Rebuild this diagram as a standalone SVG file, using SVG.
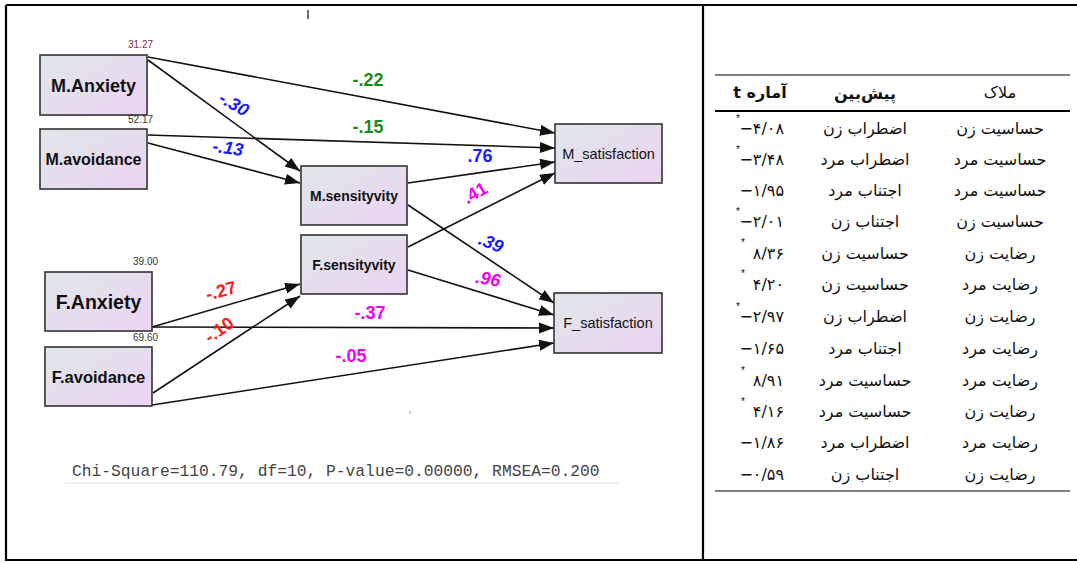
<svg xmlns="http://www.w3.org/2000/svg" width="1077" height="563" viewBox="0 0 1077 563">
<style>
.node rect{stroke:#333;stroke-width:1.6;fill:url(#ng)}
.nb{font-family:"Liberation Sans",Arial,sans-serif;font-weight:bold;fill:#111;text-anchor:middle}
.nn{font-family:"Liberation Sans",Arial,sans-serif;fill:#111;text-anchor:middle}
.conn line{stroke:#111;stroke-width:1.6;marker-end:url(#ah)}
.cl{font-family:"Liberation Sans",Arial,sans-serif;font-weight:bold;font-size:18px;text-anchor:middle}
.it{font-style:italic}
.g{fill:#1b8a1b}.b{fill:#1a1aff}.m{fill:#f000f0}.r{fill:#ff1a1a}
.var{font-family:"Liberation Sans",Arial,sans-serif;font-size:10px;fill:#333}
.fa{font-family:"DejaVu Sans","Noto Sans",sans-serif;font-size:16px;fill:#111;text-anchor:middle;direction:rtl}
.tv{font-family:"DejaVu Sans","Noto Sans",sans-serif;font-size:16px;fill:#111;direction:ltr}
.st{font-family:"Liberation Sans",Arial,sans-serif;font-size:10px;fill:#111}
</style>
<defs>
<linearGradient id="ng" x1="0" y1="0" x2="1" y2="1">
<stop offset="0" stop-color="#dfe7ea"/>
<stop offset="1" stop-color="#ecd3f2"/>
</linearGradient>
<marker id="ah" markerUnits="userSpaceOnUse" markerWidth="16" markerHeight="12" refX="15" refY="5.5" orient="auto">
<path d="M0,0 L15,5.5 L0,11 z" fill="#111"/>
</marker>
</defs>
<rect width="1077" height="563" fill="#fff"/>
<!-- frame -->
<g stroke="#000" stroke-width="2.2" fill="none">
<line x1="6" y1="5" x2="1077" y2="5"/>
<line x1="6" y1="5" x2="6" y2="561"/>
<line x1="6" y1="560" x2="1077" y2="560"/>
<line x1="703" y1="5" x2="703" y2="561"/>
</g>
<line x1="308" y1="10" x2="308" y2="19" stroke="#111" stroke-width="1.2"/>

<!-- connectors -->
<g id="connectors" class="conn">
<line x1="148" y1="57" x2="555" y2="133"/>
<line x1="148" y1="60" x2="300" y2="171"/>
<line x1="148" y1="135" x2="555" y2="148"/>
<line x1="148" y1="143" x2="300" y2="183"/>
<line x1="408" y1="183" x2="555" y2="162"/>
<line x1="408" y1="247" x2="555" y2="173"/>
<line x1="408" y1="205" x2="554" y2="303"/>
<line x1="408" y1="270" x2="554" y2="315"/>
<line x1="152" y1="327" x2="554" y2="328"/>
<line x1="152" y1="327" x2="300" y2="284"/>
<line x1="153" y1="393" x2="300" y2="296"/>
<line x1="152" y1="405" x2="554" y2="343"/>
</g>
<g id="connector-labels">
<text class="cl g" x="368" y="86">-.22</text>
<text class="cl g" x="368" y="133">-.15</text>
<text class="cl b it" transform="translate(234,104) rotate(30)" y="6">-.30</text>
<text class="cl b it" transform="translate(228,148) rotate(8)" y="6">-.13</text>
<text class="cl b" x="480" y="162">.76</text>
<text class="cl m" transform="translate(475,193) rotate(-30)" y="6">.41</text>
<text class="cl b it" transform="translate(491,243) rotate(22)" y="6">.39</text>
<text class="cl m it" transform="translate(488,279) rotate(10)" y="6">.96</text>
<text class="cl m" x="370" y="319">-.37</text>
<text class="cl r" transform="translate(221,291) rotate(-15)" y="6">-.27</text>
<text class="cl r" transform="translate(219,330) rotate(-35)" y="6">-.10</text>
<text class="cl m" x="351" y="362">-.05</text>
</g>

<!-- nodes -->
<g id="node-m-anxiety" class="node">
<rect x="40" y="55" width="107" height="60"/>
<text class="nb" x="93.5" y="92" font-size="18">M.Anxiety</text>
<text class="var" x="128" y="48" style="fill:#7a3030">31.27</text>
</g>
<g id="node-m-avoidance" class="node">
<rect x="40" y="129" width="107" height="60"/>
<text class="nb" x="93.5" y="165" font-size="16">M.avoidance</text>
<text class="var" x="128" y="123">52.17</text>
</g>
<g id="node-m-sensityvity" class="node">
<rect x="301" y="166" width="106" height="59"/>
<text class="nb" x="354" y="201" font-size="14">M.sensityvity</text>
</g>
<g id="node-f-sensityvity" class="node">
<rect x="301" y="235" width="106" height="59"/>
<text class="nb" x="354" y="270" font-size="14">F.sensityvity</text>
</g>
<g id="node-m-satisfaction" class="node">
<rect x="555" y="124" width="107" height="59"/>
<text class="nn" x="608.5" y="159" font-size="14.5">M_satisfaction</text>
</g>
<g id="node-f-satisfaction" class="node">
<rect x="554" y="293" width="108" height="60"/>
<text class="nn" x="608" y="328" font-size="14.5">F_satisfaction</text>
</g>
<g id="node-f-anxiety" class="node">
<rect x="45" y="272" width="107" height="59"/>
<text class="nb" x="98.5" y="309" font-size="19.5">F.Anxiety</text>
<text class="var" x="133" y="265">39.00</text>
</g>
<g id="node-f-avoidance" class="node">
<rect x="45" y="347" width="107" height="59"/>
<text class="nb" x="98.5" y="383" font-size="16.5">F.avoidance</text>
<text class="var" x="133" y="341">69.60</text>
</g>

<!-- fit statistics -->
<text x="72" y="476" font-family="Liberation Mono,Courier New,monospace" font-size="16.3" fill="#444">Chi-Square=110.79, df=10, P-value=0.00000, RMSEA=0.200</text>
<line x1="65" y1="483" x2="620" y2="483" stroke="#e2e2e2" stroke-width="1"/>
<line x1="410" y1="411" x2="410" y2="414" stroke="#999" stroke-width="1"/>

<!-- table -->
<g id="table">
<line x1="715" y1="75" x2="1070" y2="75" stroke="#808080" stroke-width="2"/>
<line x1="715" y1="111" x2="1070" y2="111" stroke="#000" stroke-width="2"/>
<line x1="715" y1="491" x2="1070" y2="491" stroke="#808080" stroke-width="2"/>
<text class="fa" x="760" y="98" font-weight="bold">آماره t</text>
<text class="fa" x="865" y="99" font-weight="bold">پیش‌بین</text>
<text class="fa" x="1000" y="98">ملاک</text>

<g class="fa">
<text x="1000" y="134">حساسیت زن</text>
<text x="1000" y="165">حساسیت مرد</text>
<text x="1000" y="196">حساسیت مرد</text>
<text x="1000" y="227">حساسیت زن</text>
<text x="1000" y="259">رضایت زن</text>
<text x="1000" y="290">رضایت مرد</text>
<text x="1000" y="322">رضایت زن</text>
<text x="1000" y="354">رضایت مرد</text>
<text x="1000" y="386">رضایت مرد</text>
<text x="1000" y="417">رضایت زن</text>
<text x="1000" y="448">رضایت مرد</text>
<text x="1000" y="480">رضایت زن</text>
</g>
<g class="fa">
<text x="865" y="134">اضطراب زن</text>
<text x="865" y="165">اضطراب مرد</text>
<text x="865" y="196">اجتناب مرد</text>
<text x="865" y="227">اجتناب زن</text>
<text x="865" y="259">حساسیت زن</text>
<text x="865" y="290">حساسیت زن</text>
<text x="865" y="322">اضطراب زن</text>
<text x="865" y="354">اجتناب مرد</text>
<text x="865" y="386">حساسیت مرد</text>
<text x="865" y="417">حساسیت مرد</text>
<text x="865" y="448">اضطراب مرد</text>
<text x="865" y="480">اجتناب زن</text>
</g>
<g class="tv" text-anchor="end">
<text x="784" y="134">−۴/۰۸</text>
<text x="784" y="165">−۳/۴۸</text>
<text x="784" y="196">−۱/۹۵</text>
<text x="784" y="227">−۲/۰۱</text>
<text x="784" y="259">۸/۳۶</text>
<text x="784" y="290">۴/۲۰</text>
<text x="784" y="322">−۲/۹۷</text>
<text x="784" y="354">−۱/۶۵</text>
<text x="784" y="386">۸/۹۱</text>
<text x="784" y="417">۴/۱۶</text>
<text x="784" y="448">−۱/۸۶</text>
<text x="784" y="480">−۰/۵۹</text>
</g>
<g class="st">
<text x="736" y="122">*</text>
<text x="736" y="153">*</text>
<text x="736" y="215">*</text>
<text x="741" y="246">*</text>
<text x="741" y="277">*</text>
<text x="736" y="310">*</text>
<text x="741" y="374">*</text>
<text x="741" y="405">*</text>
</g>
</g>
</svg>
